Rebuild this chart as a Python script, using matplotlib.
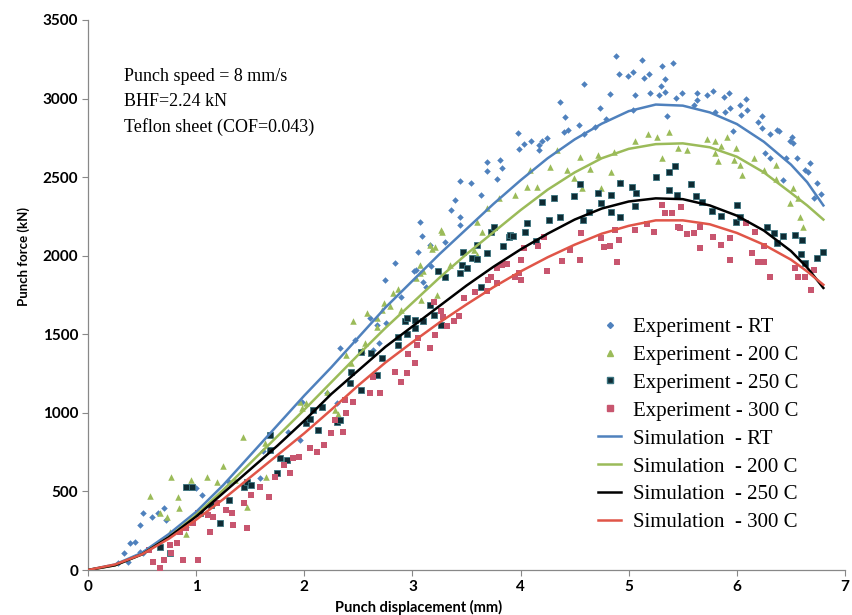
#!/usr/bin/env python
# punch force vs punch displacement, experiment scatter + simulation curves

import numpy as np
import matplotlib
matplotlib.use("Agg")
import matplotlib.pyplot as plt
from matplotlib.lines import Line2D

# ---------------- simulation curves ----------------
sim_x = [0, 0.25, 0.5, 0.75, 1.0, 1.25, 1.5, 1.75, 2.0, 2.25, 2.5, 2.75, 3.0, 3.25,
         3.5, 3.75, 4.0, 4.25, 4.5, 4.75, 5.0, 5.25, 5.5, 5.75, 6.0, 6.25, 6.5, 6.65, 6.8]
sim_rt = [0, 35, 110, 230, 370, 540, 730, 920, 1110, 1290, 1480, 1670, 1840, 2010,
          2170, 2330, 2480, 2620, 2740, 2840, 2920, 2962, 2955, 2912, 2838, 2725, 2580, 2468, 2320]
sim_200 = [0, 30, 100, 210, 350, 510, 680, 850, 1020, 1195, 1370, 1540, 1700, 1860,
           2010, 2150, 2290, 2420, 2530, 2620, 2680, 2710, 2715, 2690, 2630, 2530, 2400, 2320, 2230]
sim_250 = [0, 30, 100, 210, 340, 490, 640, 790, 950, 1120, 1270, 1420, 1550, 1680,
           1810, 1930, 2040, 2140, 2230, 2300, 2345, 2365, 2360, 2320, 2255, 2160, 2030, 1925, 1795]
sim_300 = [0, 35, 100, 200, 320, 450, 590, 730, 870, 1020, 1175, 1320, 1450, 1575,
           1690, 1800, 1900, 1990, 2070, 2140, 2190, 2225, 2225, 2200, 2145, 2070, 1975, 1900, 1815]

# ---------------- experiment points ----------------
exp_rt_x = [0.28, 0.33, 0.37, 0.39, 0.43, 0.48, 0.51, 0.48, 0.51, 0.59, 0.65, 0.70, 0.72, 0.91,
            1.00, 1.05, 1.15, 1.30, 1.59, 1.62, 1.85, 1.96, 1.98, 2.21, 2.30, 2.33, 2.47, 2.61,
            2.64, 2.67, 2.69, 2.75, 2.76, 2.84, 2.89, 3.01, 3.03, 3.05, 3.07, 3.09, 3.10, 3.13,
            3.16, 3.17, 3.30, 3.36, 3.39, 3.44, 3.44, 3.44, 3.54, 3.63, 3.69, 3.69, 3.78, 3.81,
            3.83, 3.98, 3.99, 4.03, 4.10, 4.17, 4.17, 4.20, 4.24, 4.36, 4.40, 4.41, 4.44, 4.54,
            4.59, 4.59, 4.69, 4.73, 4.79, 4.83, 4.88, 4.91, 4.99, 5.04, 5.04, 5.06, 5.12, 5.14,
            5.19, 5.20, 5.28, 5.30, 5.31, 5.34, 5.34, 5.35, 5.41, 5.44, 5.49, 5.60, 5.63, 5.63,
            5.72, 5.78, 5.80, 5.88, 5.89, 5.93, 5.94, 5.96, 6.03, 6.04, 6.08, 6.09, 6.20, 6.23,
            6.23, 6.26, 6.31, 6.31, 6.37, 6.39, 6.43, 6.45, 6.49, 6.51, 6.52, 6.56, 6.63, 6.66,
            6.68, 6.71, 6.74, 6.78]
exp_rt_y = [47, 106, 53, 170, 180, 117, 106, 286, 361, 339, 361, 393, 318, 276,
            520, 480, 430, 560, 585, 760, 880, 827, 1071, 1124, 1061, 1411, 1464, 1602,
            1400, 1559, 1443, 1845, 1570, 1952, 1739, 1900, 1909, 2022, 2217, 2125, 1835, 1800,
            2068, 1935, 2089, 2291, 2355, 2475, 2248, 2195, 2465, 2386, 2599, 2541, 2486, 2609,
            2556, 2784, 2679, 2709, 2730, 2705, 2673, 2727, 2747, 2976, 2789, 2885, 2800, 2832,
            2773, 3091, 2821, 2942, 2869, 3027, 3273, 3156, 3146, 3172, 2927, 3023, 3246, 3129,
            3156, 3034, 3023, 3080, 3207, 3123, 3044, 2891, 3229, 3006, 3034, 2959, 3034, 2991,
            3023, 3050, 2917, 3008, 2917, 3034, 2938, 2796, 2959, 2896, 2995, 2926, 2848, 2886,
            2812, 2652, 2774, 2620, 2800, 2796, 2482, 2620, 2727, 2758, 2720, 2620, 2546, 2530,
            2588, 2366, 2461, 2390]

exp_200_x = [0.57, 0.67, 0.73, 0.76, 0.77, 0.83, 0.84, 0.91, 0.95, 1.10, 1.19, 1.25, 1.36, 1.43,
             1.47, 1.64, 1.65, 1.96, 1.98, 2.02, 2.21, 2.28, 2.31, 2.39, 2.43, 2.45, 2.53, 2.56,
             2.58, 2.67, 2.67, 2.72, 2.74, 2.79, 2.82, 2.87, 2.89, 3.03, 3.07, 3.07, 3.08, 3.10,
             3.16, 3.18, 3.21, 3.23, 3.26, 3.27, 3.35, 3.57, 3.60, 3.60, 3.64, 3.69, 3.80, 3.95,
             4.06, 4.09, 4.15, 4.27, 4.34, 4.43, 4.49, 4.55, 4.57, 4.64, 4.72, 4.74, 4.84, 4.86,
             4.92, 5.06, 5.18, 5.26, 5.31, 5.37, 5.46, 5.54, 5.72, 5.80, 5.80, 5.83, 5.85, 5.91,
             5.97, 5.99, 6.03, 6.05, 6.16, 6.25, 6.36, 6.36, 6.49, 6.52, 6.57, 6.58, 6.61]
exp_200_y = [471, 361, 339, 244, 590, 467, 393, 229, 573, 594, 562, 662, 573, 848,
             403, 806, 594, 1071, 1029, 1061, 1135, 1018, 990, 1368, 1315, 1587, 1400, 1443,
             1633, 1602, 1549, 1655, 1700, 1680, 1761, 1790, 1655, 1856, 1941, 1888, 1718, 1900,
             2068, 2040, 2058, 1750, 2164, 2153, 1941, 2036, 2217, 2005, 2153, 2302, 2366, 2386,
             2440, 2546, 2440, 2567, 2673, 2546, 2493, 2630, 2429, 2550, 2641, 2429, 2535, 2662,
             2471, 2727, 2776, 2758, 2624, 2789, 2684, 2673, 2743, 2727, 2652, 2600, 2695, 2758,
             2609, 2684, 2577, 2514, 2620, 2546, 2486, 2577, 2333, 2429, 2366, 2249, 2185]

exp_250_x = [0.67, 0.76, 0.91, 0.96, 1.04, 1.14, 1.22, 1.30, 1.44, 1.47, 1.51, 1.68, 1.68, 1.75,
             1.78, 1.84, 2.02, 2.05, 2.08, 2.13, 2.16, 2.30, 2.33, 2.42, 2.43, 2.52, 2.52, 2.62,
             2.67, 2.72, 2.87, 2.87, 2.93, 2.95, 2.95, 3.02, 3.02, 3.10, 3.16, 3.20, 3.24, 3.26,
             3.30, 3.44, 3.46, 3.47, 3.50, 3.55, 3.60, 3.60, 3.63, 3.69, 3.73, 3.75, 3.84, 3.89,
             3.90, 3.93, 4.04, 4.06, 4.14, 4.20, 4.26, 4.31, 4.36, 4.49, 4.55, 4.58, 4.63, 4.72,
             4.74, 4.84, 4.84, 4.92, 4.92, 5.03, 5.06, 5.07, 5.25, 5.37, 5.37, 5.43, 5.45, 5.58,
             5.62, 5.68, 5.77, 5.85, 5.99, 6.00, 6.03, 6.28, 6.34, 6.37, 6.43, 6.54, 6.59, 6.60,
             6.63, 6.74, 6.80]
exp_250_y = [149, 106, 526, 526, 361, 414, 297, 445, 530, 562, 541, 859, 764, 615,
             711, 700, 933, 960, 1018, 891, 1039, 944, 955, 1188, 1263, 1390, 1145, 1379,
             1241, 1347, 1485, 1432, 1587, 1602, 1502, 1538, 1591, 1587, 1686, 1623, 1900, 1559,
             1866, 1888, 1941, 2026, 1920, 1983, 1977, 2068, 1800, 2015, 2153, 2185, 2062, 2117,
             2132, 2125, 2153, 2206, 2096, 2339, 2227, 2366, 2249, 2377, 2456, 2227, 2281, 2397,
             2334, 2386, 2281, 2461, 2249, 2435, 2316, 2397, 2503, 2535, 2418, 2571, 2386, 2456,
             2380, 2344, 2287, 2253, 2212, 2323, 2249, 2185, 2147, 2083, 2125, 2132, 2011, 2100,
             1952, 1984, 2026]

exp_300_x = [0.56, 0.60, 0.67, 0.70, 0.76, 0.77, 0.82, 0.85, 0.88, 0.91, 0.97, 1.02, 1.02, 1.11,
             1.13, 1.16, 1.19, 1.28, 1.33, 1.34, 1.44, 1.47, 1.51, 1.59, 1.67, 1.73, 1.81, 1.87,
             1.90, 1.95, 2.05, 2.12, 2.18, 2.25, 2.28, 2.36, 2.38, 2.39, 2.45, 2.61, 2.64, 2.70,
             2.84, 2.89, 2.95, 2.96, 3.02, 3.04, 3.05, 3.16, 3.20, 3.21, 3.26, 3.28, 3.32, 3.38,
             3.43, 3.48, 3.58, 3.69, 3.70, 3.73, 3.78, 3.78, 3.83, 3.87, 3.95, 3.99, 4.00, 4.00,
             4.03, 4.16, 4.22, 4.24, 4.38, 4.46, 4.55, 4.56, 4.74, 4.77, 4.83, 4.87, 4.89, 4.91,
             5.06, 5.17, 5.23, 5.31, 5.34, 5.40, 5.46, 5.47, 5.48, 5.54, 5.60, 5.66, 5.66, 5.78,
             5.85, 5.94, 5.94, 6.08, 6.14, 6.17, 6.20, 6.25, 6.25, 6.31, 6.54, 6.57, 6.63, 6.69,
             6.71]
exp_300_y = [127, 53, 11, 64, 159, 106, 170, 244, 64, 265, 297, 64, 361, 350,
             244, 339, 424, 382, 361, 286, 424, 265, 477, 530, 467, 594, 668, 615,
             711, 721, 774, 753, 795, 870, 955, 880, 1082, 997, 1071, 1124, 1230, 1124,
             1263, 1198, 1252, 1375, 1319, 1432, 1474, 1411, 1707, 1495, 1645, 1608, 1553, 1587,
             1616, 1729, 1771, 1775, 1845, 1866, 1829, 1920, 1941, 1945, 1866, 1888, 1845, 1973,
             2047, 2062, 2117, 1905, 1968, 2036, 1973, 2143, 2111, 2058, 2062, 2164, 1962, 2100,
             2164, 2202, 2153, 2323, 2270, 2270, 2185, 2174, 2312, 2138, 2143, 2185, 2047, 2121,
             2068, 2111, 1973, 2206, 2015, 2153, 1962, 1962, 2062, 1866, 1920, 1866, 1866, 1782,
             1909]

x_ticks = [0, 1, 2, 3, 4, 5, 6, 7]
y_ticks = [0, 500, 1000, 1500, 2000, 2500, 3000, 3500]

c_blue = "#4f81bd"
c_green = "#9bbb59"
c_dark = "#0f2b33"
c_red = "#c8566f"
c_red_line = "#e05548"

serif = ["Liberation Serif", "DejaVu Serif"]
sans = ["Lato", "DejaVu Sans"]

fig = plt.figure(figsize=(8.52, 6.15), dpi=100)
ax = fig.add_axes([88 / 852, 45 / 615, 757 / 852, 550 / 615])

# experiment scatter
ax.scatter(exp_rt_x, exp_rt_y, marker="D", s=11, color=c_blue, linewidths=0, zorder=3)
ax.scatter(exp_200_x, exp_200_y, marker="^", s=22, color=c_green, linewidths=0, zorder=3)
ax.scatter(exp_250_x, exp_250_y, marker="s", s=18, color=c_dark, edgecolors="#3b7480",
           linewidths=0.6, zorder=3)
ax.scatter(exp_300_x, exp_300_y, marker="s", s=18, color=c_red, linewidths=0, zorder=3)

# simulation curves
ax.plot(sim_x, sim_rt, color=c_blue, lw=1.8, zorder=4)
ax.plot(sim_x, sim_200, color=c_green, lw=1.8, zorder=4)
ax.plot(sim_x, sim_250, color="black", lw=1.8, zorder=4)
ax.plot(sim_x, sim_300, color=c_red_line, lw=1.8, zorder=4)

ax.set_xlim(0, 7)
ax.set_ylim(0, 3500)
ax.set_xticks(x_ticks)
ax.set_yticks(y_ticks)
for lab in ax.get_xticklabels() + ax.get_yticklabels():
    lab.set_family(sans)
    lab.set_fontweight("bold")
    lab.set_fontsize(11)
ax.tick_params(direction="out", length=4, width=0.8, color="#888888", pad=3)

for s in ["top", "right"]:
    ax.spines[s].set_visible(False)
for s in ["left", "bottom"]:
    ax.spines[s].set_color("#888888")
    ax.spines[s].set_linewidth(0.9)

ax.set_xlabel("Punch displacement (mm)", family=sans, fontweight="bold", fontsize=10.5)
ax.xaxis.set_label_coords((419 - 88) / 757, -(600 - 570) / 550)
ax.set_ylabel("Punch force (kN)", family=sans, fontweight="bold", fontsize=9.5)
ax.yaxis.set_label_coords((30 - 88) / 757, (570 - 256) / 550)

ax.text(0.048, 0.912, "Punch speed = 8 mm/s\nBHF=2.24 kN\nTeflon sheet (COF=0.043)",
        transform=ax.transAxes, family=serif, fontsize=13, va="top", ha="left",
        linespacing=1.6)

handles = [
    Line2D([], [], ls="none", marker="D", ms=3, color=c_blue),
    Line2D([], [], ls="none", marker="^", ms=4.5, color=c_green),
    Line2D([], [], ls="none", marker="s", ms=4, color=c_dark, mec="#3b7480"),
    Line2D([], [], ls="none", marker="s", ms=4, color=c_red),
    Line2D([], [], color=c_blue, lw=1.8),
    Line2D([], [], color=c_green, lw=1.8),
    Line2D([], [], color="black", lw=1.8),
    Line2D([], [], color=c_red_line, lw=1.8),
]
labels = ["Experiment - RT", "Experiment - 200 C", "Experiment - 250 C", "Experiment - 300 C",
          "Simulation  - RT", "Simulation  - 200 C", "Simulation  - 250 C", "Simulation  - 300 C"]
ax.legend(handles, labels, loc="upper left", bbox_to_anchor=(590 / 852, 1 - 309 / 615),
          bbox_transform=fig.transFigure, frameon=False, prop={"family": serif, "size": 15},
          handlelength=1.1, handletextpad=0.55, labelspacing=0.4, borderaxespad=0)

fig.savefig("out.png", dpi=100)
